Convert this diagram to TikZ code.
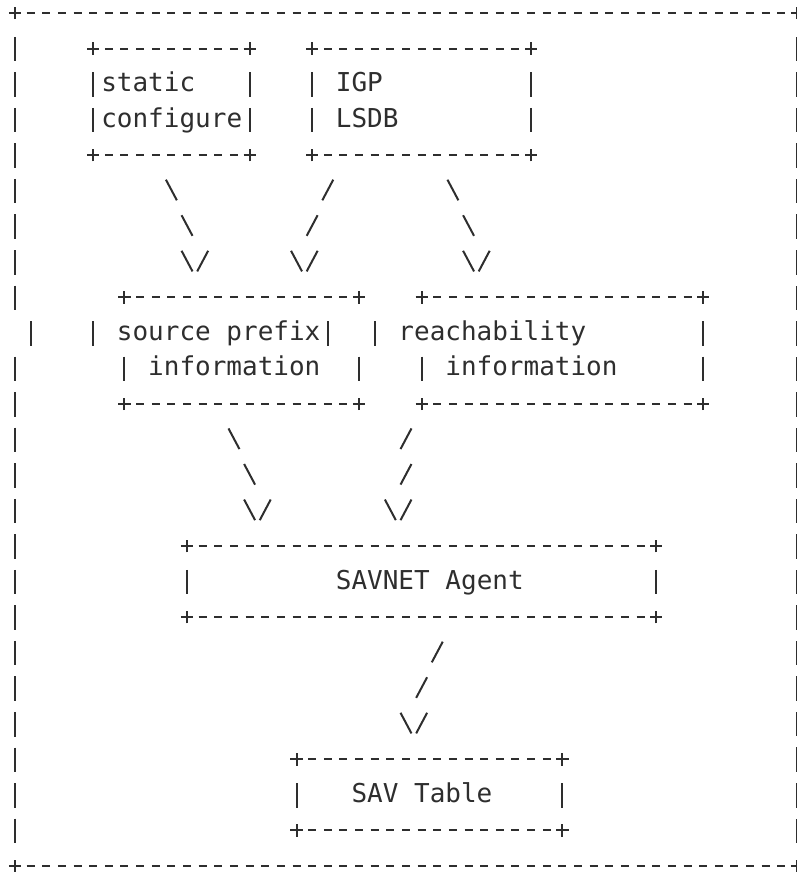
\documentclass[tikz,border=0pt]{standalone}
\usepackage{fontspec}
\setmonofont{DejaVu Sans Mono}
\usetikzlibrary{fit,calc}

\tikzset{
  ink/.style={draw=black!82, line width=1.5pt},
  hside/.style={ink, dash pattern=on 6pt off 5.73pt, shorten <=8.73pt, shorten >=8.73pt},
  vside/.style={ink, dash pattern=on 18.39pt off 8.26pt, shorten <=17.86pt, shorten >=17.06pt},
  box/.style={rectangle, inner sep=0pt, outer sep=0pt},
  lbl/.style={anchor=base west, inner sep=0pt, text=black!82,
    font=\ttfamily\fontsize{19.5pt}{20pt}\selectfont},
  plus/.pic={\draw[ink] (-0.39,0) -- (0.39,0) (0,-0.175) -- (0,0.175);},
  bar/.pic={\draw[ink] (0,0.33) -- (0,-0.36);},
  bs/.pic={\draw[ink] (-0.35,0.31) -- (0.35,-0.27);},
  fs/.pic={\draw[ink] (-0.35,-0.27) -- (0.35,0.31);},
  vee/.pic={\draw[ink] (-0.35,0.31) -- (0.35,-0.27) (0.65,-0.27) -- (1.35,0.31);},
}

% top, bottom and the four corners of a box
\newcommand\asciiframe[1]{%
  \draw[hside] (#1.north west) -- (#1.north east);
  \draw[hside] (#1.south west) -- (#1.south east);
  \foreach \k in {north west,north east,south west,south east}
    \path (#1.\k) pic{plus};
}

\begin{document}
\begin{tikzpicture}[x=11.73pt, y=26.655pt]
  \useasboundingbox (-0.959,0.366) rectangle (49.94,-24.17);

  % boxes
  \node[box, fit={(0,0) (50,-24)}] (frame) {};
  \node[box, fit={(5,-1) (15,-4)}] (static) {};
  \node[box, fit={(19,-1) (33,-4)}] (igp) {};
  \node[box, fit={(7,-8) (22,-11)}] (srcpfx) {};
  \node[box, fit={(26,-8) (44,-11)}] (reach) {};
  \node[box, fit={(11,-15) (41,-17)}] (agent) {};
  \node[box, fit={(18,-21) (35,-23)}] (savtab) {};

  % outer frame
  \asciiframe{frame}
  \draw[vside] (frame.north west) -- ($(frame.north west)+(0,-9)$);
  \draw[vside] ($(frame.north west)+(0,-9)$) -- (frame.south west);
  \path (frame.north west) ++(1,-9) pic{bar};
  \draw[vside] (frame.north east) -- (frame.south east);

  % inner boxes
  \foreach \b in {static,igp,agent,savtab}{
    \asciiframe{\b}
    \draw[vside] (\b.north west) -- (\b.south west);
    \draw[vside] (\b.north east) -- (\b.south east);
  }
  \asciiframe{srcpfx}
  \path (srcpfx.north west) ++(-2,-1) pic{bar} ++(2,-1) pic{bar};
  \path (srcpfx.north east) ++(-2,-1) pic{bar} ++(2,-1) pic{bar};
  \asciiframe{reach}
  \path (reach.north west) ++(-3,-1) pic{bar} ++(3,-1) pic{bar};
  \draw[vside] (reach.north east) -- (reach.south east);

  % texts
  \node[lbl] (static-a) at (5.5,-2.211) {static};
  \node[lbl] (static-b) at (5.5,-3.211) {configure};
  \node[lbl] (igp-a) at (20.5,-2.211) {IGP};
  \node[lbl] (igp-b) at (20.5,-3.211) {LSDB};
  \node[lbl] (srcpfx-a) at (6.5,-9.211) {source prefix};
  \node[lbl] (srcpfx-b) at (8.5,-10.211) {information};
  \node[lbl] (reach-a) at (24.5,-9.211) {reachability};
  \node[lbl] (reach-b) at (27.5,-10.211) {information};
  \node[lbl] (agent-a) at (20.5,-16.211) {SAVNET Agent};
  \node[lbl] (savtab-a) at (21.5,-22.211) {SAV Table};

  % links
  \path (static.south west) ++(5,-1) pic{bs} ++(1,-1) pic{bs} ++(0,-1) pic{vee};
  \path (igp.south west) ++(1,-1) pic{fs} ++(-1,-1) pic{fs} ++(-1,-1) pic{vee};
  \path (igp.south east) ++(-5,-1) pic{bs} ++(1,-1) pic{bs} ++(0,-1) pic{vee};
  \path (srcpfx.south west) ++(7,-1) pic{bs} ++(1,-1) pic{bs} ++(0,-1) pic{vee};
  \path (reach.south west) ++(-1,-1) pic{fs} ++(0,-1) pic{fs} ++(-1,-1) pic{vee};
  \path (agent.south west) ++(16,-1) pic{fs} ++(-1,-1) pic{fs} ++(-1,-1) pic{vee};
\end{tikzpicture}
\end{document}
